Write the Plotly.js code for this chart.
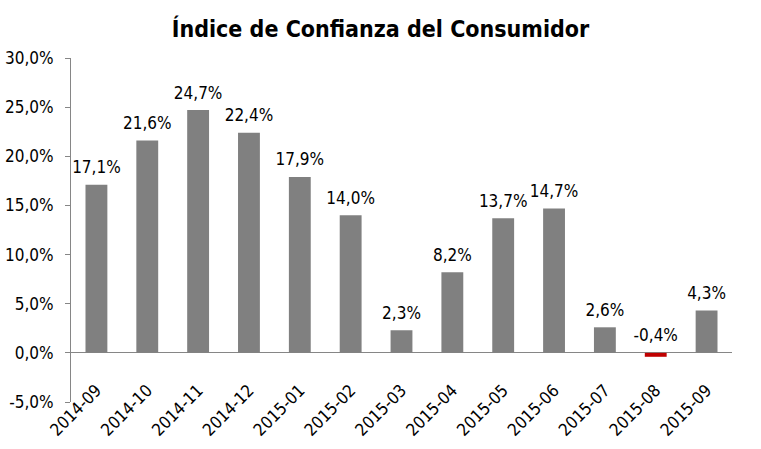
<!DOCTYPE html>
<html>
<head>
<meta charset="utf-8">
<script src="https://cdn.plot.ly/plotly-3.0.1.min.js"></script>
<style>
  html, body { margin: 0; padding: 0; background: #fff; }
  #chart { width: 761px; height: 449px; }
</style>
</head>
<body>
<div id="chart"></div>
<script>
// Monthly consumer confidence index, year-on-year change (%)
const months = ['2014-09', '2014-10', '2014-11', '2014-12', '2015-01', '2015-02', '2015-03',
                '2015-04', '2015-05', '2015-06', '2015-07', '2015-08', '2015-09'];
const values = [17.1, 21.6, 24.7, 22.4, 17.9, 14.0, 2.3, 8.2, 13.7, 14.7, 2.6, -0.4, 4.3];
const yTicks = [-5, 0, 5, 10, 15, 20, 25, 30];
const yTickText = ['-5,0%', '0,0%', '5,0%', '10,0%', '15,0%', '20,0%', '25,0%', '30,0%'];

const font = '"Liberation Sans Narrow", "Arial Narrow", "DejaVu Sans Condensed", sans-serif';

const bars = {
  x: months,
  y: values,
  type: 'bar',
  marker: {color: values.map(v => v < 0 ? '#C00000' : '#808080')},
  hoverinfo: 'skip'
};

// labels sit above the bar, or above the zero line for negative values
const labels = {
  x: months,
  y: values.map(v => Math.max(v, 0)),
  type: 'scatter',
  mode: 'markers+text',
  marker: {size: 10, opacity: 0},
  text: values.map(v => v.toFixed(1).replace('.', ',') + '%'),
  textposition: 'top center',
  textfont: {family: font, size: 17, color: '#000'},
  hoverinfo: 'skip'
};

const layout = {
  width: 761,
  height: 449,
  margin: {l: 71, r: 29, t: 58, b: 47},
  showlegend: false,
  bargap: 0.57,
  paper_bgcolor: '#fff',
  plot_bgcolor: '#fff',
  title: {
    text: '<b>Índice de Confianza del Consumidor</b>',
    font: {family: font, size: 23, color: '#000'},
    x: 0.5,
    xanchor: 'center',
    y: 0.935,
    yanchor: 'middle'
  },
  xaxis: {
    type: 'category',
    range: [-0.5, months.length - 0.5],
    anchor: 'free',
    position: 0.075,
    tickangle: -45,
    ticks: '',
    showline: false,
    showgrid: false,
    automargin: false,
    tickfont: {family: font, size: 17, color: '#000'}
  },
  yaxis: {
    range: [-5, 30],
    tickvals: yTicks,
    ticktext: yTickText,
    ticks: 'outside',
    ticklen: 5,
    tickcolor: '#868686',
    ticklabelstandoff: 8,
    showline: true,
    linecolor: '#868686',
    linewidth: 1,
    showgrid: false,
    zeroline: true,
    zerolinecolor: '#868686',
    zerolinewidth: 1,
    automargin: false,
    tickfont: {family: font, size: 17, color: '#000'}
  }
};

Plotly.newPlot('chart', [bars, labels], layout, {displayModeBar: false, staticPlot: true});
</script>
</body>
</html>
